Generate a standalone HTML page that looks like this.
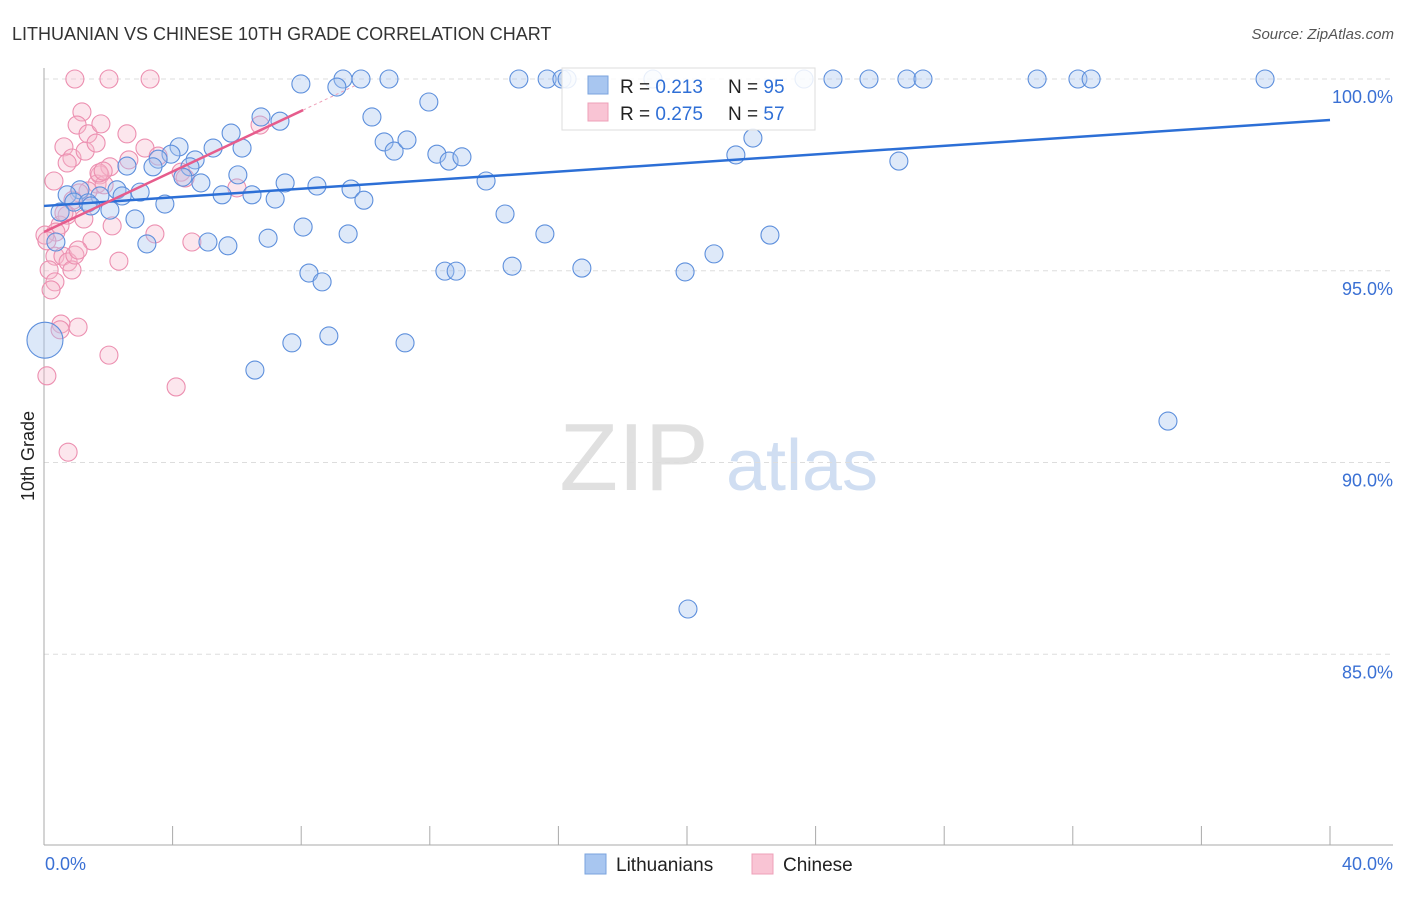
<!DOCTYPE html>
<html><head><meta charset="utf-8"><style>
body{margin:0;background:#fff;font-family:"Liberation Sans",sans-serif;}
svg text{font-family:"Liberation Sans",sans-serif;}
</style></head><body>
<svg id="chart" width="1406" height="892">
<text x="12" y="40" font-size="18" fill="#333">LITHUANIAN VS CHINESE 10TH GRADE CORRELATION CHART</text>
<text x="1394" y="39" font-size="15" fill="#555" font-style="italic" text-anchor="end">Source: ZipAtlas.com</text>
<text x="634" y="490" font-size="96" fill="#e0e0e0" font-family="Liberation Serif" text-anchor="middle">ZIP</text>
<text x="802" y="490" font-size="72" fill="#d0def2" text-anchor="middle">atlas</text>
<text transform="translate(34,456) rotate(-90)" font-size="18" fill="#222" text-anchor="middle">10th Grade</text>
<g id="axes"></g>
<g id="pts"></g>
<g id="lines"></g>
<g>
<rect x="562" y="68" width="253" height="62" fill="#fff" fill-opacity="0.85" stroke="#ddd"/>
<rect x="588" y="76" width="20" height="18" fill="#a8c6f0" stroke="#7aa3de"/>
<rect x="588" y="103" width="20" height="18" fill="#f9c4d4" stroke="#eea0b8"/>
<text x="620" y="93" font-size="19" fill="#222">R = <tspan fill="#2f6fd6">0.213</tspan></text>
<text x="728" y="93" font-size="19" fill="#222">N = <tspan fill="#2f6fd6">95</tspan></text>
<text x="620" y="120" font-size="19" fill="#222">R = <tspan fill="#2f6fd6">0.275</tspan></text>
<text x="728" y="120" font-size="19" fill="#222">N = <tspan fill="#2f6fd6">57</tspan></text>
</g>
<g>
<rect x="585" y="854" width="21" height="20" fill="#a8c6f0" stroke="#7aa3de"/>
<text x="616" y="871" font-size="19" fill="#222">Lithuanians</text>
<rect x="752" y="854" width="21" height="20" fill="#f9c4d4" stroke="#eea0b8"/>
<text x="783" y="871" font-size="19" fill="#222">Chinese</text>
</g>
</svg>
<script>
const blueX=[7.99,9.30,9.11,9.86,10.73,10.20,11.97,14.77,15.65,16.11,16.27,18.94,23.64,24.54,25.66,26.84,27.34,30.89,32.16,32.57,37.98,22.05,21.52,26.59,10.58,10.89,11.29,12.22,12.60,13.00,13.75,14.34,15.58,14.56,16.73,12.47,12.82,8.24,8.65,19.94,20.84,22.58,7.71,8.86,11.23,6.56,34.96,20.03,6.75,7.34,5.82,5.26,6.16,4.20,4.70,3.95,4.54,3.55,3.39,2.58,6.03,4.88,4.32,7.50,8.49,9.55,9.95,7.19,6.47,5.54,2.99,2.27,2.43,1.74,1.12,0.72,0.93,1.37,0.50,1.46,2.05,2.83,3.76,5.10,5.72,3.20,6.97,8.06,9.46,0.37];
const blueY=[99.87,100,99.79,100,100,99.01,99.40,100,100,100,100,100,100,100,100,100,100,100,100,100,100,98.46,98.02,97.86,98.36,98.12,98.41,98.04,97.86,97.97,97.34,96.48,95.96,95.12,95.07,94.99,94.99,94.94,94.71,94.97,95.44,95.93,93.12,93.30,93.12,92.41,91.08,86.18,99.01,98.90,98.59,98.20,98.20,98.23,97.89,98.04,97.71,97.91,97.71,97.73,97.50,97.29,97.44,97.29,97.21,97.13,96.84,96.87,96.98,96.98,97.05,97.11,96.95,96.95,97.11,96.98,96.79,96.77,96.53,96.69,96.58,96.35,96.74,95.75,95.65,95.70,95.85,96.14,95.96,95.75];
const bigBlue=[0.03,93.19];
const pinkX=[0.96,2.02,3.30,1.18,1.03,1.37,1.77,2.58,0.62,0.87,0.72,1.28,1.62,0.31,1.74,2.05,2.64,3.14,3.55,4.26,4.39,1.65,1.87,1.71,1.84,1.37,1.09,0.90,6.72,6.00,2.12,1.24,0.72,0.50,0.37,0.03,0.09,0.34,0.59,0.75,0.87,0.96,1.49,1.06,2.33,3.45,4.60,0.16,0.34,0.22,0.53,0.50,1.06,2.02,4.11,0.09,0.75,0.62];
const pinkY=[100,100,100,99.14,98.80,98.57,98.83,98.57,98.23,97.94,97.81,98.12,98.33,97.34,97.50,97.71,97.89,98.20,97.99,97.57,97.42,97.26,97.24,97.55,97.60,97.08,97.03,96.84,98.80,97.16,96.17,96.35,96.45,96.19,96.01,95.93,95.78,95.38,95.38,95.23,95.02,95.41,95.78,95.54,95.25,95.96,95.75,95.02,94.71,94.50,93.61,93.46,93.53,92.80,91.97,92.26,90.27,96.51];
const blueTrend=[96.69,98.93];
const pinkTrend=[96.01,99.19];
const pinkTrendEnd=8.06;
const yTicks=[100,95,90,85];
const yTickLabels=["100.0%","95.0%","90.0%","85.0%"];
const xMin=0,xMax=40;
const X=v=>44+(v-xMin)/(xMax-xMin)*1286;
const Y=v=>79+(100-v)*38.35;
const NS="http://www.w3.org/2000/svg";
function mk(tag,attrs,parent){const e=document.createElementNS(NS,tag);for(const k in attrs)e.setAttribute(k,attrs[k]);parent.appendChild(e);return e;}
const axes=document.getElementById('axes');
yTicks.forEach((t,i)=>{
 const g=mk('line',{x1:44,x2:1393,y1:Y(t),y2:Y(t),stroke:'#ddd','stroke-dasharray':'5,4'},axes);
 
 
 const l=mk('text',{x:1393,y:Y(t)+24,'font-size':18,fill:'#3a70d4','text-anchor':'end'},axes);
 l.textContent=yTickLabels[i];
 
 
});
const ya=mk('line',{x1:44,x2:44,y1:68,y2:845,stroke:'#aaa'},axes);


const xa=mk('line',{x1:44,x2:1393,y1:845,y2:845,stroke:'#aaa'},axes);


for(let k=1;k<=10;k++){
 const v=xMin+k*(xMax-xMin)/10;
 const tk=mk('line',{x1:X(v),x2:X(v),y1:826,y2:845,stroke:'#aaa'},axes);
 
 
}
const xl0=mk('text',{x:45,y:870,'font-size':18,fill:'#3a70d4'},axes);xl0.textContent='0.0%';


const xl1=mk('text',{x:1393,y:870,'font-size':18,fill:'#3a70d4','text-anchor':'end'},axes);xl1.textContent='40.0%';


const pts=document.getElementById('pts');
pinkX.forEach((x,i)=>{
 const c=mk('circle',{cx:X(x),cy:Y(pinkY[i]),r:9,fill:'#f7b6cb','fill-opacity':0.35,stroke:'#ec8fb0','stroke-width':1.1},pts);
 
 
});
blueX.forEach((x,i)=>{
 const c=mk('circle',{cx:X(x),cy:Y(blueY[i]),r:9,fill:'#a8c6f0','fill-opacity':0.38,stroke:'#5d8fdc','stroke-width':1.1},pts);
 
 
});
const bb=mk('circle',{cx:X(bigBlue[0]),cy:Y(bigBlue[1]),r:18,fill:'#a8c6f0','fill-opacity':0.4,stroke:'#5d8fdc','stroke-width':1.1},pts);


const lines=document.getElementById('lines');
const bl=mk('line',{x1:X(0),y1:Y(blueTrend[0]),x2:X(40),y2:Y(blueTrend[1]),stroke:'#2c6fd6','stroke-width':2.5},lines);


const slope=(pinkTrend[1]-pinkTrend[0])/pinkTrendEnd;
const pl=mk('line',{x1:X(0),y1:Y(pinkTrend[0]),x2:X(pinkTrendEnd),y2:Y(pinkTrend[1]),stroke:'#e65c8c','stroke-width':2.5},lines);


const pd=mk('line',{x1:X(pinkTrendEnd),y1:Y(pinkTrend[1]),x2:X(9.7),y2:Y(pinkTrend[0]+slope*9.7),stroke:'#eea0b8','stroke-width':1,'stroke-dasharray':'3,3'},lines);


</script>
</body></html>
